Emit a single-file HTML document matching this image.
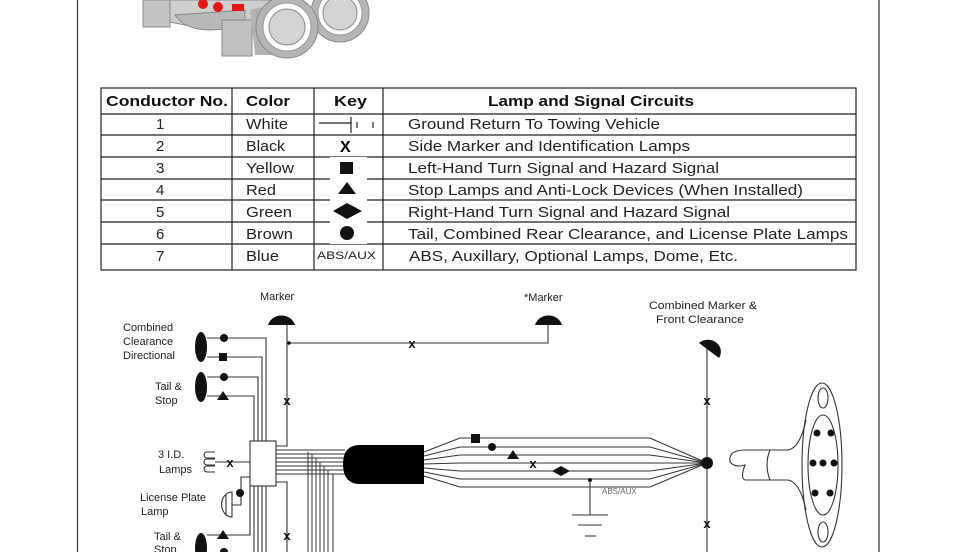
<!DOCTYPE html>
<html><head><meta charset="utf-8"><style>
body{margin:0;background:#fff;}
svg{display:block;font-family:"Liberation Sans",sans-serif;}
</style></head><body>
<svg width="980" height="552" viewBox="0 0 980 552" xmlns="http://www.w3.org/2000/svg">
<rect width="980" height="552" fill="#fff"/>
<line x1="77.5" y1="0" x2="77.5" y2="552" stroke="#333" stroke-width="1.2"/>
<line x1="879" y1="0" x2="879" y2="552" stroke="#333" stroke-width="1.2"/>
<!-- truck -->
<g stroke="#888" stroke-width="1">
<polygon points="143,0 270,0 262,22 248,28 190,26 160,20 143,10" fill="#cfcfcf"/>
<rect x="143" y="0" width="27" height="27" fill="#c4c4c4"/>
<path d="M175,15 Q185,30 210,30 L245,28 L245,10 Z" fill="#b8b8b8"/>
<rect x="222" y="20" width="30" height="36" fill="#c0c0c0"/>
<circle cx="340" cy="13" r="29" fill="#b5b5b5"/>
<circle cx="340" cy="13" r="22" fill="#fff" stroke="#999"/>
<circle cx="340" cy="13" r="17" fill="#d4d4d4"/>
<path d="M250,10 L290,0 L300,55 L255,55 Z" fill="#b2b2b2" stroke="none"/>
<circle cx="287" cy="27" r="31" fill="#b5b5b5"/>
<circle cx="287" cy="27" r="24" fill="#fff" stroke="#999"/>
<circle cx="287" cy="27" r="18" fill="#d4d4d4"/>
</g>
<circle cx="203" cy="4" r="5" fill="#e01818"/>
<circle cx="218" cy="7" r="5" fill="#e01818"/>
<rect x="232" y="4" width="12" height="7" fill="#e01818"/>
<!-- table -->
<g stroke="#222" stroke-width="1.2" fill="none">
<rect x="101" y="88" width="755" height="182"/>
<line x1="232" y1="88" x2="232" y2="270"/><line x1="314" y1="88" x2="314" y2="270"/><line x1="383" y1="88" x2="383" y2="270"/>
<line x1="101" y1="114" x2="856" y2="114"/>
<line x1="101" y1="135" x2="856" y2="135"/>
<line x1="101" y1="157" x2="856" y2="157"/>
<line x1="101" y1="179" x2="856" y2="179"/>
<line x1="101" y1="200" x2="856" y2="200"/>
<line x1="101" y1="222" x2="856" y2="222"/>
<line x1="101" y1="244" x2="856" y2="244"/>
</g>
<rect x="330" y="157" width="37" height="87" fill="#fff"/>
<g font-size="15" font-weight="bold" fill="#111" lengthAdjust="spacingAndGlyphs">
<text x="106" y="106" textLength="122" lengthAdjust="spacingAndGlyphs">Conductor No.</text>
<text x="246" y="106" textLength="44" lengthAdjust="spacingAndGlyphs">Color</text>
<text x="334" y="106" textLength="33" lengthAdjust="spacingAndGlyphs">Key</text>
<text x="488" y="106" textLength="206" lengthAdjust="spacingAndGlyphs">Lamp and Signal Circuits</text>
</g>
<g font-size="15" fill="#222">
<text x="156" y="129">1</text><text x="156" y="151">2</text><text x="156" y="173">3</text><text x="156" y="195">4</text><text x="156" y="217">5</text><text x="156" y="239">6</text><text x="156" y="261">7</text>
<text x="246" y="129" textLength="42" lengthAdjust="spacingAndGlyphs">White</text>
<text x="246" y="151" textLength="39" lengthAdjust="spacingAndGlyphs">Black</text>
<text x="246" y="173" textLength="48" lengthAdjust="spacingAndGlyphs">Yellow</text>
<text x="246" y="195" textLength="30" lengthAdjust="spacingAndGlyphs">Red</text>
<text x="246" y="217" textLength="46" lengthAdjust="spacingAndGlyphs">Green</text>
<text x="246" y="239" textLength="47" lengthAdjust="spacingAndGlyphs">Brown</text>
<text x="246" y="261" textLength="33" lengthAdjust="spacingAndGlyphs">Blue</text>
<text x="408" y="129" textLength="252" lengthAdjust="spacingAndGlyphs">Ground Return To Towing Vehicle</text>
<text x="408" y="151" textLength="282" lengthAdjust="spacingAndGlyphs">Side Marker and Identification Lamps</text>
<text x="408" y="173" textLength="311" lengthAdjust="spacingAndGlyphs">Left-Hand Turn Signal and Hazard Signal</text>
<text x="408" y="195" textLength="395" lengthAdjust="spacingAndGlyphs">Stop Lamps and Anti-Lock Devices (When Installed)</text>
<text x="408" y="217" textLength="322" lengthAdjust="spacingAndGlyphs">Right-Hand Turn Signal and Hazard Signal</text>
<text x="408" y="239" textLength="440" lengthAdjust="spacingAndGlyphs">Tail, Combined Rear Clearance, and License Plate Lamps</text>
<text x="409" y="261" textLength="329" lengthAdjust="spacingAndGlyphs">ABS, Auxillary, Optional Lamps, Dome, Etc.</text>
<text x="317" y="259" font-size="11" textLength="59" lengthAdjust="spacingAndGlyphs">ABS/AUX</text>
</g>
<g stroke="#222" stroke-width="1.2"><line x1="319" y1="123" x2="351" y2="123"/><line x1="351" y1="117" x2="351" y2="133"/><line x1="357" y1="122" x2="357" y2="128"/><line x1="373" y1="122" x2="373" y2="128"/></g>
<text x="340" y="152" font-size="16" font-weight="bold">X</text>
<rect x="340" y="162" width="13" height="12" fill="#111"/>
<polygon points="347,182 338,194 356,194" fill="#111"/>
<polygon points="333,211 347,203 362,211 347,219" fill="#111"/>
<circle cx="347" cy="233" r="7" fill="#111"/>
<!-- diagram -->
<g font-size="11" fill="#222">
<text x="260" y="300">Marker</text><text x="524" y="301">*Marker</text>
<text x="649" y="309" textLength="108" lengthAdjust="spacingAndGlyphs">Combined Marker &amp;</text><text x="656" y="323" textLength="88" lengthAdjust="spacingAndGlyphs">Front Clearance</text>
<text x="123" y="331">Combined</text><text x="123" y="345">Clearance</text><text x="123" y="359">Directional</text>
<text x="155" y="390">Tail &amp;</text><text x="155" y="404">Stop</text>
<text x="158" y="458">3 I.D.</text><text x="159" y="473">Lamps</text>
<text x="140" y="501">License Plate</text><text x="141" y="515">Lamp</text>
<text x="154" y="540">Tail &amp;</text><text x="154" y="553">Stop</text>
<text x="602" y="494" font-size="8" fill="#666">ABS/AUX</text>
</g>
<g stroke="#333" stroke-width="1.1" fill="none">
<polyline points="207,338 266,338 266,442"/>
<polyline points="207,357 262,357 262,442"/>
<polyline points="207,377 258,377 258,442"/>
<polyline points="207,396 254,396 254,442"/>
<line x1="254" y1="486" x2="254" y2="552"/><line x1="258" y1="486" x2="258" y2="552"/><line x1="262" y1="486" x2="262" y2="552"/><line x1="266" y1="486" x2="266" y2="552"/>
<polyline points="207,535 250,535 250,486"/>
<polyline points="287,325 287,446 276,446"/>
<polyline points="287,343 548,343 548,325"/>
<polyline points="276,482 287,482 287,552"/>
<line x1="215" y1="462" x2="250" y2="462"/>
<path d="M215,452 h-8 a3,3 0 0 0 0,6 h8 M215,459 h-8 a3,3 0 0 0 0,6 h8 M215,466 h-8 a3,3 0 0 0 0,6 h8"/>
<polyline points="250,477 241,477 241,505 232,505"/>
<path d="M232,492 a10,12 0 0 0 0,25 Z M226,494 v21"/>
<rect x="250" y="441" width="26" height="45" fill="#fff"/>
</g>
<g stroke="#333" stroke-width="1">
<line x1="276" y1="450" x2="345" y2="450"/><line x1="276" y1="454" x2="345" y2="454"/><line x1="276" y1="458" x2="345" y2="458"/><line x1="276" y1="462" x2="345" y2="462"/><line x1="276" y1="466" x2="345" y2="466"/><line x1="276" y1="470" x2="345" y2="470"/><line x1="276" y1="474" x2="345" y2="474"/>
<line x1="308" y1="452" x2="308" y2="552"/><line x1="312" y1="454" x2="312" y2="552"/><line x1="316" y1="458" x2="316" y2="552"/><line x1="320" y1="462" x2="320" y2="552"/><line x1="324" y1="466" x2="324" y2="552"/><line x1="328" y1="470" x2="328" y2="552"/><line x1="333" y1="474" x2="333" y2="552"/>
</g>
<path d="M360,445 H424 V484 H360 Q343,484 343,464 Q343,445 360,445 Z" fill="#000"/>
<g stroke="#333" stroke-width="1.1" fill="none">
<polyline points="424,452 460,438 650,438 707,463"/>
<polyline points="424,456 460,447 650,447 707,463"/>
<polyline points="424,460 460,455 650,455 707,463"/>
<polyline points="424,464 460,463 650,463 707,463"/>
<polyline points="424,468 460,471 650,471 707,463"/>
<polyline points="424,472 460,479 650,479 707,463"/>
<polyline points="424,476 460,487 650,487 707,463"/>
<polyline points="590,480 590,515"/>
<line x1="572" y1="515" x2="608" y2="515"/><line x1="578" y1="525" x2="602" y2="525"/><line x1="585" y1="536" x2="596" y2="536"/>
<line x1="707" y1="340" x2="707" y2="552"/>
<path d="M745,450 L788,450 Q800,448 806,420 M745,480 L788,480 Q800,482 806,510"/>
<path d="M745,450 Q728,450 730,462 Q735,468 745,465 Q740,478 745,480"/>
<path d="M770,450 Q764,465 770,480"/>
<ellipse cx="822" cy="465" rx="20" ry="82"/>
<ellipse cx="823" cy="465" rx="15" ry="50"/>
<ellipse cx="823" cy="398" rx="5" ry="10"/>
<ellipse cx="823" cy="532" rx="5" ry="10"/>
</g>
<g fill="#111">
<ellipse cx="201" cy="347" rx="6" ry="15"/><circle cx="224" cy="338" r="4"/><rect x="219" y="353" width="8" height="8"/>
<ellipse cx="201" cy="387" rx="6" ry="15"/><circle cx="224" cy="377" r="4"/><polygon points="223,391 217,400 229,400"/>
<ellipse cx="201" cy="548" rx="6" ry="15"/><polygon points="223,530 217,539 229,539"/><circle cx="224" cy="552" r="4"/>
<circle cx="240" cy="493" r="4"/>
<path d="M268,325 a14,13 0 0 1 27,0 Z"/>
<path d="M535,325 a14,13 0 0 1 27,0 Z"/>
<path d="M699,343 a13,12 0 0 1 20,15 Z"/>
<rect x="471" y="434" width="9" height="9"/><circle cx="492" cy="447" r="4"/><polygon points="513,450 507,459 519,459"/>
<polygon points="552,471 561,466 570,471 561,476"/>
<circle cx="590" cy="480" r="2"/>
<circle cx="707" cy="463" r="6"/>
<circle cx="289" cy="343" r="1.8"/>
<circle cx="817" cy="433" r="3.5"/><circle cx="831" cy="433" r="3.5"/><circle cx="813" cy="463" r="3.5"/><circle cx="823" cy="463" r="3.5"/><circle cx="834" cy="463" r="3.5"/><circle cx="815" cy="493" r="3.5"/><circle cx="830" cy="493" r="3.5"/>
</g>
<g font-size="13" font-weight="bold" fill="#111" text-anchor="middle">
<text x="412" y="348">x</text><text x="287" y="405">x</text><text x="230" y="467">x</text><text x="287" y="540">x</text><text x="533" y="468">x</text><text x="707" y="405">x</text><text x="707" y="528">x</text>
</g>
</svg>
</body></html>
